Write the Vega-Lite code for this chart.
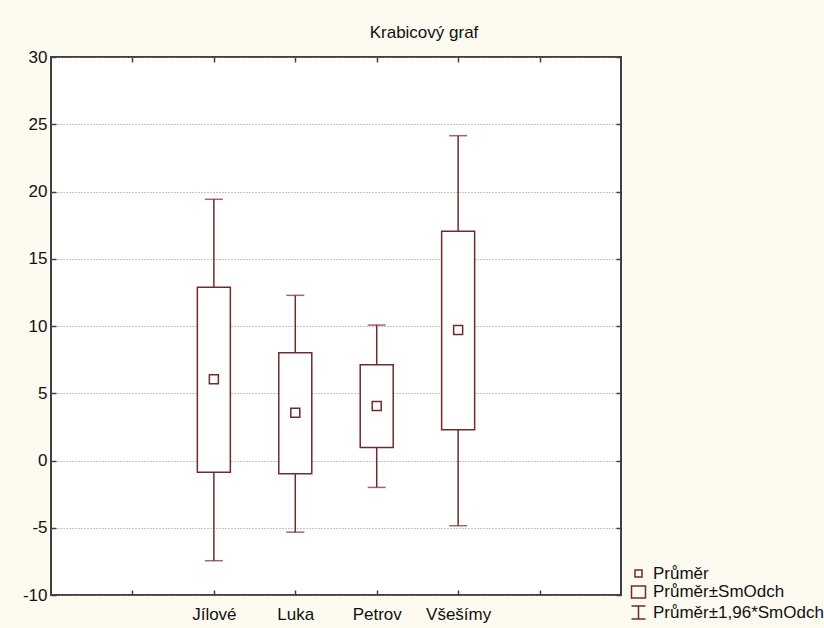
{
  "$schema": "https://vega.github.io/schema/vega-lite/v6.json",
  "width": 570,
  "height": 538,
  "autosize": {"type": "none"},
  "padding": {"left": 51, "top": 57, "right": 203, "bottom": 33},
  "background": "#fdfaf0",
  "title": {"text": "Krabicový graf", "fontSize": 17, "fontWeight": "normal", "font": "Liberation Sans", "color": "#111111", "anchor": "middle", "dx": 88, "offset": -11, "baseline": "bottom"},
  "config": {
    "title": {"fontSize": 17, "font": "Liberation Sans", "fontWeight": "normal"},
    "view": {"fill": "white", "stroke": "#404040", "strokeWidth": 2},
    "axis": {"labelFont": "Liberation Sans", "labelFontSize": 17, "labelColor": "#111111", "tickColor": "#404040", "tickWidth": 1.5, "domain": false, "title": null}
  },
  "data": {
    "values": [
      {"lok": "Jílové", "mean": 6.04, "boxLow": -0.88, "boxHigh": 12.88, "whiskLow": -7.45, "whiskHigh": 19.42},
      {"lok": "Luka", "mean": 3.55, "boxLow": -0.98, "boxHigh": 8.02, "whiskLow": -5.33, "whiskHigh": 12.28},
      {"lok": "Petrov", "mean": 4.05, "boxLow": 0.97, "boxHigh": 7.12, "whiskLow": -2.0, "whiskHigh": 10.07},
      {"lok": "Všešímy", "mean": 9.7, "boxLow": 2.29, "boxHigh": 17.04, "whiskLow": -4.85, "whiskHigh": 24.15}
    ]
  },
  "layer": [
    {
      "mark": {"type": "rule", "color": "#6f2c2c", "strokeWidth": 1.5},
      "encoding": {
        "x": {"field": "lok", "type": "nominal", "scale": {"type": "point", "domain": ["_a", "Jílové", "Luka", "Petrov", "Všešímy", "_b"], "padding": 1},
          "axis": {"orient": "bottom", "labelExpr": "indexof(datum.value, '_') == 0 ? '' : datum.value", "labelAngle": 0, "tickSize": -5, "labelPadding": 16, "grid": false}},
        "y": {"field": "whiskLow", "type": "quantitative", "scale": {"domain": [-10, 30], "nice": false, "zero": false},
          "axis": {"orient": "left", "values": [-10, -5, 0, 5, 10, 15, 20, 25, 30], "labelExpr": "datum.value < 0 ? '-' + abs(datum.value) : '' + datum.value", "grid": true, "gridDash": [1, 2], "gridColor": "#8c8c8c", "gridWidth": 1, "tickSize": -5, "labelPadding": 9}},
        "y2": {"field": "whiskHigh"}
      }
    },
    {
      "mark": {"type": "tick", "color": "#6f2c2c", "thickness": 1.5, "size": 18, "orient": "horizontal"},
      "encoding": {
        "x": {"field": "lok", "type": "nominal", "scale": {"type": "point", "domain": ["_a", "Jílové", "Luka", "Petrov", "Všešímy", "_b"], "padding": 1}, "axis": null},
        "y": {"field": "whiskHigh", "type": "quantitative", "scale": {"domain": [-10, 30], "nice": false, "zero": false}, "axis": null}
      }
    },
    {
      "mark": {"type": "tick", "color": "#6f2c2c", "thickness": 1.5, "size": 18, "orient": "horizontal"},
      "encoding": {
        "x": {"field": "lok", "type": "nominal", "scale": {"type": "point", "domain": ["_a", "Jílové", "Luka", "Petrov", "Všešímy", "_b"], "padding": 1}, "axis": null},
        "y": {"field": "whiskLow", "type": "quantitative", "scale": {"domain": [-10, 30], "nice": false, "zero": false}, "axis": null}
      }
    },
    {
      "mark": {"type": "bar", "fill": "white", "stroke": "#6f2c2c", "strokeWidth": 1.5, "width": 33},
      "encoding": {
        "x": {"field": "lok", "type": "nominal", "scale": {"type": "point", "domain": ["_a", "Jílové", "Luka", "Petrov", "Všešímy", "_b"], "padding": 1}, "axis": null},
        "y": {"field": "boxLow", "type": "quantitative", "scale": {"domain": [-10, 30], "nice": false, "zero": false}, "axis": null},
        "y2": {"field": "boxHigh"}
      }
    },
    {
      "mark": {"type": "point", "filled": false, "size": 324, "strokeWidth": 1.5, "color": "#6f2c2c", "opacity": 1},
      "encoding": {
        "x": {"field": "lok", "type": "nominal", "scale": {"type": "point", "domain": ["_a", "Jílové", "Luka", "Petrov", "Všešímy", "_b"], "padding": 1},
          "axis": {"orient": "top", "labels": false, "tickSize": -5, "grid": false}},
        "y": {"field": "mean", "type": "quantitative", "scale": {"domain": [-10, 30], "nice": false, "zero": false},
          "axis": {"orient": "right", "labels": false, "values": [-10, -5, 0, 5, 10, 15, 20, 25, 30], "tickSize": -5, "grid": false}},
        "shape": {"datum": "Průměr", "type": "nominal",
          "scale": {"domain": ["Průměr", "Průměr±SmOdch", "Průměr±1,96*SmOdch"], "range": ["M-0.5,-0.5H0.5V0.5H-0.5Z", "M-1,-0.857H1V0.857H-1Z", "M-1,-0.93H1M0,-0.93V0.93M-1,0.93H1"]},
          "legend": {"orient": "none", "legendX": 579, "legendY": 508, "title": null, "labelFont": "Liberation Sans", "labelFontSize": 17, "labelColor": "#111111", "labelLimit": 300, "symbolSize": 196, "symbolStrokeColor": "#6f2c2c", "symbolFillColor": "transparent", "symbolStrokeWidth": 1.5, "rowPadding": 0.5, "labelOffset": 6, "padding": 0}}
      }
    }
  ],
  "resolve": {"axis": {"x": "independent", "y": "independent"}}
}
